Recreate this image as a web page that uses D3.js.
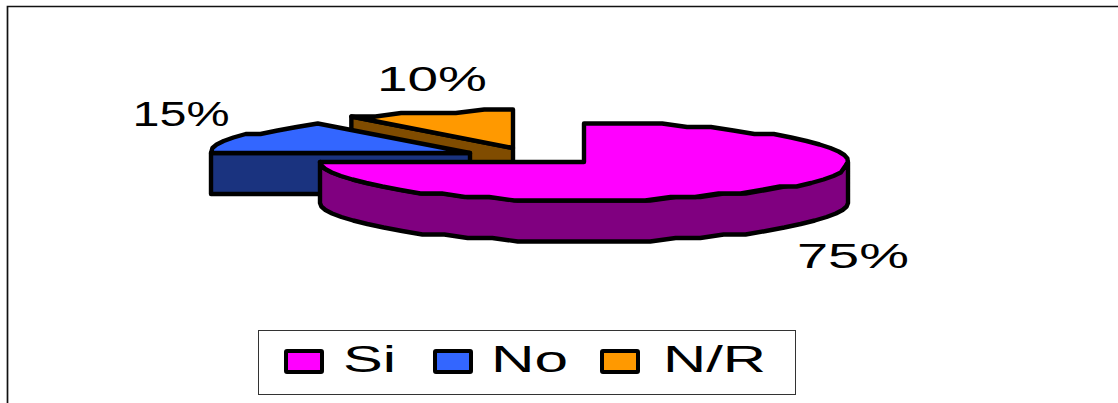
<!DOCTYPE html>
<html>
<head>
<meta charset="utf-8">
<style>
html,body{margin:0;padding:0;background:#fff;overflow:hidden}
svg{display:block}
text{font-family:"Liberation Sans",Arial,sans-serif;fill:#000}
</style>
<script src="https://cdnjs.cloudflare.com/ajax/libs/d3/7.8.5/d3.min.js"></script>
</head>
<body>
<svg id="chart" width="1118" height="403"></svg>
<script>
// Survey answers, in percent
const categories = ["Si", "No", "N/R"];
const shares = [75, 15, 10];
const topColors = ["#ff00ff", "#3366ff", "#ff9900"];
const sideColors = ["#800080", "#1a337f", "#804c00"];
const labelText = ["75%", "15%", "10%"];

const W = 1118, H = 403;
const svg = d3.select("#chart").attr("viewBox", [0, 0, W, H]);

// Outer frame: open along the right and bottom edges
svg.append("path")
  .attr("d", "M7.5,403V6.5H1118")
  .attr("fill", "none").attr("stroke", "#111").attr("stroke-width", 1.7);

// Tilted pie geometry; exploded slices sit on their own centres
const depth = 41;
const pie = d3.pie().value(d => d).sort(null)(shares);
const centers = [[584, 162], [470, 153], [513, 148]];
const radiiX = [264, 259, 275];
const radiiY = [38.5, 35, 37];

// Coarse rim sampling gives the outline its faceted, stepped edge;
// points level with the centre stay exact so the cut edges remain straight
const rim = (i, a) => {
  const y = centers[i][1] - radiiY[i] * Math.cos(a);
  return [
    centers[i][0] + radiiX[i] * Math.sin(a),
    Math.abs(Math.cos(a)) < 1e-6 ? centers[i][1] : Math.round((y - 1) / 3.5) * 3.5 + 1
  ];
};
const arcPoints = (i, a0, a1) => {
  const n = Math.max(2, Math.round((a1 - a0) / 0.1));
  return d3.range(n + 1).map(k => rim(i, a0 + (a1 - a0) * k / n));
};
const line = d3.line().curve(d3.curveLinear);
const applyOutline = (sel, fill) => sel
  .attr("fill", fill).attr("stroke", "#000")
  .attr("stroke-width", 4.4)
  .attr("stroke-linejoin", "round");

// Draw back slices first so the large slice overlaps them
[2, 1, 0].forEach(i => {
  const s = pie[i], c = centers[i];
  const g = svg.append("g");
  const pts = arcPoints(i, s.startAngle, s.endAngle);

  if (i === 0) {
    // Outer wall: only the front half of the rim is visible
    const front = arcPoints(i, Math.PI / 2, Math.PI * 1.5);
    const wall = front.concat(front.slice().reverse().map(p => [p[0], p[1] + depth]));
    g.append("path").attr("d", line(wall) + "Z").call(applyOutline, sideColors[i]);
  } else {
    // Cut face along the leading radius of the exploded slices
    const end = rim(i, s.startAngle);
    const wall = [c, end, [end[0], end[1] + depth], [c[0], c[1] + depth]];
    g.append("path").attr("d", line(wall) + "Z").call(applyOutline, sideColors[i]);
  }
  g.append("path").attr("d", line([c].concat(pts)) + "Z").call(applyOutline, topColors[i]);
});

// Slice percentages
const labelPos = [[853, 255], [181, 113], [432, 78]];
const labelLen = [112, 97, 110];
svg.append("g").selectAll("text").data(labelText).join("text")
  .attr("x", (d, i) => labelPos[i][0] - labelLen[i] / 2).attr("y", (d, i) => labelPos[i][1])
  .attr("dy", "0.36em")
  .attr("font-size", 35).attr("textLength", (d, i) => labelLen[i]).attr("lengthAdjust", "spacingAndGlyphs")
  .text(d => d);

// Legend
const legend = svg.append("g");
legend.append("rect").attr("x", 258.5).attr("y", 330.5).attr("width", 537).attr("height", 64)
  .attr("fill", "#fff").attr("stroke", "#333").attr("stroke-width", 1);
const swatchX = [286, 435, 602], legendTextX = [343, 491, 663], legendLen = [53, 77, 103];
categories.forEach((name, i) => {
  legend.append("rect").attr("x", swatchX[i]).attr("y", 351).attr("width", 36).attr("height", 21)
    .attr("fill", topColors[i]).attr("stroke", "#000").attr("stroke-width", 4).attr("rx", 1);
  legend.append("text").attr("x", legendTextX[i]).attr("y", 372)
    .attr("font-size", 37).attr("textLength", legendLen[i]).attr("lengthAdjust", "spacingAndGlyphs")
    .text(name);
});
</script>
</body>
</html>
